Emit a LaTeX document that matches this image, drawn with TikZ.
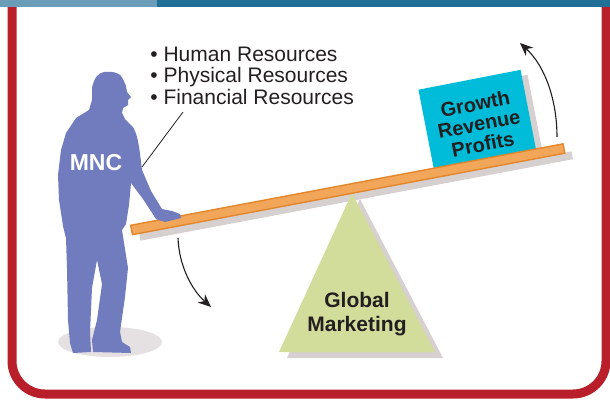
\documentclass[tikz,border=0pt]{standalone}
\usepackage{fontspec}
\usetikzlibrary{arrows.meta}
\newfontfamily\labelfont{Liberation Sans}

\definecolor{framered}{HTML}{B81F2A}
\definecolor{barlight}{HTML}{6B9DB8}
\definecolor{bardark}{HTML}{1F6F96}
\definecolor{mncblue}{HTML}{707CBE}
\definecolor{dropgrey}{HTML}{D6D0D0}
\definecolor{groundgrey}{HTML}{E5E0E1}
\definecolor{plankorange}{HTML}{F2A65A}
\definecolor{plankedge}{HTML}{E3862C}
\definecolor{fulcrumgreen}{HTML}{D2DC9B}
\definecolor{goalcyan}{HTML}{00BCD8}
\definecolor{inkdark}{HTML}{231F20}

\begin{document}
\begin{tikzpicture}[x=1pt,y=-1pt,thick]
    % `drop' is the grey shadow under plank, box and fulcrum.
    % `goalbox' is the tilted box riding on the plank.
    % `swing' is used for the two curved arrows.
    \tikzstyle{drop} = [fill=dropgrey,inner sep=0pt]
    \tikzstyle{plank} = [fill=plankorange,draw=plankedge,line width=1.4pt,inner sep=0pt,
                         minimum width=440pt,minimum height=9.5pt,rotate=10.67]
    \tikzstyle{goalbox} = [fill=goalcyan,inner sep=0pt,minimum width=104pt,minimum height=84pt,rotate=11]
    \tikzstyle{boldlabel} = [text=inkdark,align=center,inner sep=0pt,font=\labelfont\bfseries\fontsize{20}{20.5}\selectfont]
    \tikzstyle{item} = [text=inkdark,anchor=base west,inner sep=0pt,font=\labelfont\fontsize{21}{21.5}\selectfont]
    \tikzstyle{swing} = [line width=1.1pt,inkdark,-{Stealth[length=13pt,width=11pt]}]
    %
    \useasboundingbox (0,0) rectangle (610,399);
    % Red frame and header bar.
    \draw[line width=9pt,framered,rounded corners=33pt] (12,4) -- (12,394) -- (606,394) -- (606,4);
    \fill[barlight] (0,0) rectangle (157,7);
    \fill[bardark] (157,0) rectangle (610,7);

    % Seesaw: shadows first, then fulcrum, box and plank.
    \node[drop,minimum width=440pt,minimum height=8pt,rotate=10.67] (plankshadow) at (356,196) {};
    \fill[dropgrey] (360,199) -- (443,358) -- (287,358) -- cycle;
    \fill[fulcrumgreen] (352,193) -- (435,352) -- (279,352) -- cycle;
    \node[boldlabel,font=\labelfont\bfseries\fontsize{21}{24}\selectfont] (market) at (357,314) {Global\\Marketing};
    \node[goalbox,fill=dropgrey] (goalshadow) at (484.5,126) {};
    \node[goalbox] (goals) at (477.5,121) {};
    \node[boldlabel,rotate=11] (goaltext) at (479,124) {Growth\\Revenue\\Profits};
    \node[plank] (plank) at (347.75,189.25) {};

    % The MNC figure and its shadow.
    \fill[groundgrey] (110,342) ellipse [x radius=52pt,y radius=15pt];
    \fill[mncblue] (104,72) .. controls (113,71) and (121,73) .. (123,79) -- (126,86) -- (127,92)
        -- (131,97) -- (128,100) -- (128,105) -- (123,108) -- (122,113) -- (125,119) -- (133,127)
        .. controls (139,137) and (140,155) .. (142,170) -- (151,191) -- (162,209) -- (172,211)
        -- (180,214) -- (181,218) -- (165,222) -- (156,219) -- (143,199) -- (131,183)
        -- (129,205) -- (126,224) -- (122,230) -- (128,268) -- (125,297) -- (120,332) -- (122,342)
        -- (130,347) -- (131,353) -- (93,352) -- (92,340) -- (97,320) -- (102,284) -- (97,260)
        -- (92,288) -- (90,332) -- (91,352) -- (73,353) -- (70,343) -- (68,320) -- (67,268)
        -- (66,238) -- (63,226) -- (59,200) -- (58,175) -- (61,150) -- (66,133) -- (76,118)
        -- (89,110) -- (92,100) -- (92,88) .. controls (94,78) and (98,73) .. cycle;
    \node[text=white,font=\labelfont\bfseries\fontsize{23}{23}\selectfont] (mnc) at (96,163) {MNC};

    % Resources list with its leader line to the arm.
    \node[item] (human) at (150,61) {• Human Resources};
    \node[item] (physical) at (150,82.5) {• Physical Resources};
    \node[item] (financial) at (150,104) {• Financial Resources};
    \coordinate (lead) at (183,112);
    \coordinate (arm) at (142,167);
    \draw[inkdark,line width=0.8pt] (lead) -- (arm);

    % Curved arrows showing the swing of the plank.
    \coordinate (dipstart) at (178,238);
    \coordinate (dipend) at (211,307);
    \coordinate (risestart) at (557,137);
    \coordinate (riseend) at (520,43);
    \draw[swing] (dipstart) .. controls (179,266) and (192,290) .. (dipend);
    \draw[swing] (risestart) .. controls (557,100) and (545,66) .. (riseend);
\end{tikzpicture}
\end{document}
